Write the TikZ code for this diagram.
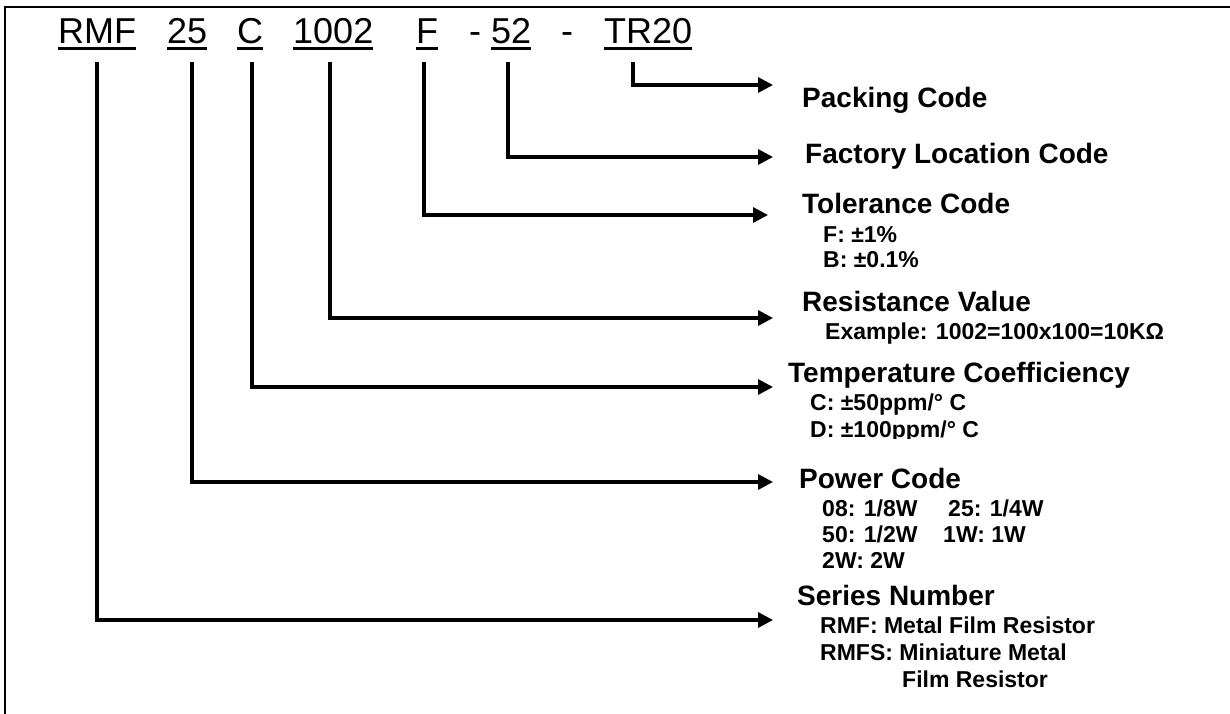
\documentclass[tikz,border=0pt]{standalone}
\usepackage{fontspec}
\setmainfont{Liberation Sans}
\usetikzlibrary{
  arrows.meta,
}
\def\mylw{3.2pt}
\def\myudist{5pt}
\tikzset{
  x=1pt,
  y=-1pt,
  my code/.style={
    anchor=base west,
    inner sep=0pt,
    font=\fontsize{36}{43}\selectfont
  },
  my underline/.style={
    line width=3pt
  },
  my title/.style={
    anchor=base west,
    inner sep=0pt,
    font=\fontsize{28}{34}\selectfont\bfseries
  },
  my item/.style={
    anchor=base west,
    inner sep=0pt,
    font=\fontsize{23}{28}\selectfont\bfseries
  },
  my link/.style={
    line width=\mylw,
    -{Triangle[length=15pt,width=15pt]}
  },
  my frame/.style={
    line width=2pt
  }
}
\begin{document}
\begin{tikzpicture}
\useasboundingbox (0,0) rectangle (1230,713);
\draw[my frame] (1232,7) -- (5,7) -- (5,715);
% part number
\node[my code] (rmf)  at (58,43)  {RMF};
\node[my code] (pw)   at (167,43) {25};
\node[my code] (tc)   at (237,43) {C};
\node[my code] (val)  at (293,43) {1002\ };
\node[my code] (tol)  at (416,43) {F};
\node[my code] (d1)   at (469,43) {-};
\node[my code] (fac)  at (491,43) {52};
\node[my code] (d2)   at (561,43) {-};
\node[my code] (pack) at (604,43) {TR20};
\draw[my underline] ([yshift=-\myudist]rmf.base west)  -- ([yshift=-\myudist]rmf.base east);
\draw[my underline] ([yshift=-\myudist]pw.base west)   -- ([yshift=-\myudist]pw.base east);
\draw[my underline] ([yshift=-\myudist]tc.base west)   -- ([yshift=-\myudist]tc.base east);
\draw[my underline] ([yshift=-\myudist]val.base west)  -- ([yshift=-\myudist]val.base east);
\draw[my underline] ([yshift=-\myudist]tol.base west)  -- ([yshift=-\myudist]tol.base east);
\draw[my underline] ([yshift=-\myudist]fac.base west)  -- ([yshift=-\myudist]fac.base east);
\draw[my underline] ([yshift=-\myudist]pack.base west) -- ([yshift=-\myudist]pack.base east);
% meaning of each part
\node[my title] (pack t) at (802,107) {Packing Code};
\node[my title] (fac t)  at (805,163) {Factory Location Code};
\node[my title] (tol t)  at (802,213) {Tolerance Code};
\node[my item]  (tol 1)  at (823,242) {F: ±1\%};
\node[my item]  (tol 2)  at (823,267) {B: ±0.1\%};
\node[my title] (val t)  at (802,311) {Resistance Value};
\node[my item]  (val 1)  at (825,339) {Example: 1002=100x100=10KΩ};
\node[my title] (tc t)   at (788,382) {Temperature Coefficiency};
\node[my item]  (tc 1)   at (810,410) {C: ±50ppm/° C};
\begin{scope}
\clip (780,390) rectangle (1230,438);
\node[my item]  (tc 2)   at (810,437) {D: ±100ppm/° C};
\end{scope}
\node[my title] (pw t)   at (799,488) {Power Code};
\node[my item]  (pw 1)   at (822,516) {08: 1/8W};
\node[my item]  (pw 2)   at (948,516) {25: 1/4W};
\node[my item]  (pw 3)   at (822,542) {50: 1/2W};
\node[my item]  (pw 4)   at (943,542) {1W: 1W};
\node[my item]  (pw 5)   at (822,568) {2W: 2W};
\node[my title] (rmf t)  at (797,605) {Series Number};
\node[my item]  (rmf 1)  at (820,633) {RMF: Metal Film Resistor};
\node[my item]  (rmf 2)  at (820,660) {RMFS: Miniature Metal};
\node[my item]  (rmf 3)  at (902,687) {Film Resistor};
% connectors
\coordinate (rmf top)  at (97,62);
\coordinate (pw top)   at (192,62);
\coordinate (tc top)   at (252,62);
\coordinate (val top)  at (330,62);
\coordinate (tol top)  at (424,62);
\coordinate (fac top)  at (508,62);
\coordinate (pack top) at (633,62);
\coordinate (rmf tip)  at (773,620);
\coordinate (pw tip)   at (773,482);
\coordinate (tc tip)   at (773,387);
\coordinate (val tip)  at (773,318);
\coordinate (tol tip)  at (768,215);
\coordinate (fac tip)  at (773,157);
\coordinate (pack tip) at (773,85);
\draw[my link] (rmf top)  |- (rmf tip);
\draw[my link] (pw top)   |- (pw tip);
\draw[my link] (tc top)   |- (tc tip);
\draw[my link] (val top)  |- (val tip);
\draw[my link] (tol top)  |- (tol tip);
\draw[my link] (fac top)  |- (fac tip);
\draw[my link] (pack top) |- (pack tip);
\end{tikzpicture}
\end{document}
